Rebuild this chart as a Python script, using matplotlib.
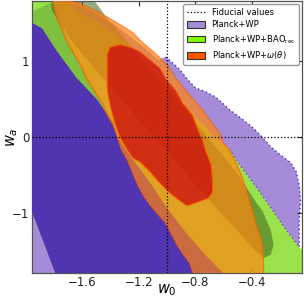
import matplotlib
matplotlib.use("Agg")
import matplotlib.pyplot as plt
from matplotlib.lines import Line2D
from matplotlib.patches import Patch

# contour outlines, (w0, wa)
planck95_left_w0 = [-2.04, -1.95, -1.88, -1.83, -1.78, -1.76, -1.75, -1.72, -1.69, -1.64, -1.59,
                    -1.54, -1.49, -1.44, -1.40, -1.36, -1.34, -1.32, -1.40, -1.76, -2.04]
planck95_left_wa = [1.63, 1.66, 1.72, 1.77, 1.75, 1.66, 1.52, 1.39, 1.26, 1.09, 0.93,
                    0.74, 0.58, 0.44, 0.28, 0.13, 0.00, -0.17, -0.44, -2.03, -2.03]

planck95_right_w0 = [-1.79, -1.67, -1.61, -1.49, -1.38, -1.28, -1.22, -1.13, -1.06, -1.01, -0.96,
                     -0.91, -0.85, -0.80, -0.73, -0.66, -0.61, -0.56, -0.48, -0.40, -0.33, -0.27,
                     -0.20, -0.13, -0.09, -0.07, -0.06, -0.07, -0.07, -0.07, -0.17, -0.31, -0.41,
                     -0.50, -0.56, -0.65, -0.72, -0.80, -0.87, -0.94, -1.01, -1.08, -1.15, -1.23,
                     -1.31, -1.42, -1.53, -1.65, -1.68, -1.74]
planck95_right_wa = [1.95, 1.77, 1.74, 1.63, 1.50, 1.36, 1.27, 1.14, 1.02, 1.06, 0.98,
                     0.89, 0.75, 0.65, 0.60, 0.53, 0.45, 0.36, 0.25, 0.13, 0.00, -0.13,
                     -0.24, -0.34, -0.46, -0.64, -0.83, -1.10, -1.36, -1.46, -1.21, -0.83, -0.57,
                     -0.34, -0.17, -0.04, 0.12, 0.26, 0.42, 0.58, 0.73, 0.89, 1.02, 1.15,
                     1.28, 1.42, 1.55, 1.66, 1.75, 1.95]

planck68_w0 = [-2.04, -1.95, -1.88, -1.78, -1.64, -1.49, -1.38, -1.35, -1.24, -1.12, -1.00,
               -0.87, -0.73, -0.61, -0.51, -1.74, -1.95, -2.04]
planck68_wa = [1.62, 1.51, 1.44, 1.15, 0.79, 0.49, 0.19, 0.00, -0.30, -0.60, -0.94,
               -1.26, -1.56, -1.79, -2.03, -2.03, -0.99, -0.58]

bao95_w0 = [-2.04, -1.74, -1.68, -1.65, -1.53, -1.42, -1.31, -1.23, -1.15, -1.08, -1.01,
            -0.94, -0.87, -0.80, -0.72, -0.65, -0.56, -0.50, -0.41, -0.31, -0.17, -0.07,
            0.01, 0.01, -1.12, -1.76, -2.04]
bao95_wa = [1.95, 1.95, 1.75, 1.66, 1.55, 1.42, 1.28, 1.15, 1.02, 0.89, 0.73,
            0.58, 0.42, 0.26, 0.12, -0.04, -0.17, -0.34, -0.57, -0.83, -1.21, -1.46,
            -1.56, -2.03, -2.03, -0.17, 1.02]

bao68_w0 = [-1.82, -1.81, -1.77, -1.65, -1.47, -1.26, -1.01, -0.77, -0.52, -0.38, -0.32,
            -0.27, -0.25, -0.27, -0.33, -0.36, -0.43, -0.50, -0.61, -0.77, -0.94, -1.12,
            -1.30, -1.44, -1.54]
bao68_wa = [1.88, 1.68, 1.55, 1.22, 0.82, 0.36, -0.17, -0.70, -1.21, -1.50, -1.60,
            -1.56, -1.43, -1.23, -0.97, -0.90, -0.70, -0.50, -0.24, 0.12, 0.52, 0.91,
            1.31, 1.62, 1.88]

wth95_w0 = [-1.80, -1.80, -1.79, -1.77, -1.74, -1.71, -1.66, -1.61, -1.56, -1.51, -1.46,
            -1.42, -1.38, -1.35, -1.32, -1.28, -1.25, -1.20, -1.16, -1.12, -1.01, -0.92,
            -0.84, -0.80, -0.30, -0.32, -0.32, -0.33, -0.37, -0.40, -0.44, -0.49, -0.56,
            -0.60, -0.63, -0.70, -0.75, -0.81, -0.87, -0.94, -0.99, -1.05, -1.11, -1.19,
            -1.24, -1.35, -1.47, -1.59, -1.68, -1.74]
wth95_wa = [1.88, 1.77, 1.68, 1.55, 1.42, 1.28, 1.11, 0.95, 0.75, 0.60, 0.45,
            0.29, 0.16, 0.00, -0.17, -0.30, -0.44, -0.66, -0.79, -0.90, -1.14, -1.46,
            -1.67, -1.89, -1.89, -1.79, -1.66, -1.40, -1.17, -0.97, -0.70, -0.44, -0.17,
            -0.08, 0.05, 0.23, 0.36, 0.49, 0.62, 0.78, 0.93, 1.05, 1.15, 1.28,
            1.38, 1.51, 1.64, 1.75, 1.80, 1.88]

wth68_w0 = [-1.40, -1.33, -1.26, -1.19, -1.12, -1.05, -1.00, -0.94, -0.89, -0.82, -0.79,
            -0.75, -0.73, -0.69, -0.68, -0.68, -0.71, -0.78, -0.86, -0.92, -0.98, -1.05,
            -1.12, -1.19, -1.24, -1.28, -1.33, -1.37, -1.40, -1.42, -1.42, -1.42]
wth68_wa = [1.19, 1.22, 1.19, 1.13, 1.02, 0.91, 0.75, 0.62, 0.45, 0.29, 0.13,
            -0.04, -0.17, -0.37, -0.57, -0.73, -0.81, -0.86, -0.91, -0.83, -0.74, -0.61,
            -0.46, -0.33, -0.28, -0.17, -0.01, 0.20, 0.42, 0.62, 0.89, 1.09]

w0_fid = -1.0
wa_fid = 0.0
xticks = [-1.6, -1.2, -0.8, -0.4]
yticks = [-1, 0, 1]

fig = plt.figure(figsize=(3.04, 2.98), dpi=100)
ax = fig.add_axes([32 / 304, 25 / 298, 270 / 304, 272 / 298])

ax.fill(planck95_left_w0, planck95_left_wa, color='#A68CD8', lw=0, zorder=1)
ax.fill(planck95_right_w0, planck95_right_wa, color='#A68CD8', lw=0, zorder=1)
ax.plot(planck95_right_w0[9:35], planck95_right_wa[9:35], color='#4A2EA8', lw=1.0,
        dashes=(1, 2), zorder=1.5)
ax.fill(bao95_w0, bao95_wa, color='#6ED700', alpha=0.7, lw=0, zorder=2)
ax.fill(bao68_w0, bao68_wa, color='#40641E', alpha=0.55, lw=0, zorder=2.5)
ax.fill(planck68_w0, planck68_wa, color='#5034B0', lw=0, zorder=3)
ax.fill(wth95_w0, wth95_wa, facecolor='#FF8510', alpha=0.7, edgecolor='#FF5A00', lw=0.8, zorder=4)
ax.fill(wth68_w0, wth68_wa, facecolor='#CC000E', alpha=0.7, edgecolor='#FF5A00', lw=0.8, zorder=5)

ax.axvline(w0_fid, color='k', ls=':', lw=0.9, zorder=6)
ax.axhline(wa_fid, color='k', ls=':', lw=0.9, zorder=6)

ax.set_xlim(-1.95, -0.05)
ax.set_ylim(-1.8, 1.8)
ax.set_xticks(xticks)
ax.set_yticks(yticks)
ax.tick_params(direction='in', top=True, right=True, length=3.5, width=0.8,
               labelsize=8.5, colors='#222222')
ax.tick_params(axis='x', pad=2)
ax.tick_params(axis='y', pad=2)
for s in ax.spines.values():
    s.set_color('#555555')
    s.set_linewidth(0.9)

ax.set_xlabel('$w_0$', fontsize=10.5)
ax.set_ylabel('$w_a$', fontsize=10.5)
ax.xaxis.set_label_coords(0.5, -0.036)
ax.yaxis.set_label_coords(-0.045, 0.5)

handles = [Line2D([], [], color='k', ls=':', lw=0.9),
           Patch(facecolor='#A68CD8', edgecolor='#333333', lw=0.8),
           Patch(facecolor='#7FFF00', edgecolor='#333333', lw=0.8),
           Patch(facecolor='#FF5500', edgecolor='#333333', lw=0.8)]
labels = ['Fiducial values', 'Planck+WP', r'Planck+WP+BAO$_{\rm rec}$',
          r'Planck+WP+$\omega(\theta)$']
leg = ax.legend(handles, labels, loc='upper right', fontsize=6, handlelength=2.2,
                handleheight=0.8, labelspacing=0.45, borderpad=0.4, framealpha=1,
                borderaxespad=0.4)
leg.get_frame().set_edgecolor('#999999')
leg.set_zorder(10)

fig.savefig('out.png', dpi=100)
